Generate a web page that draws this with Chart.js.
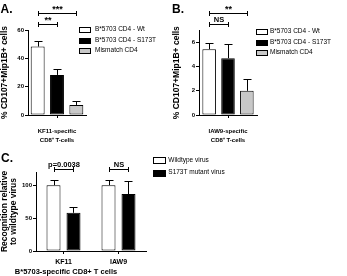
<!DOCTYPE html>
<html><head><meta charset="utf-8">
<script src="https://cdn.jsdelivr.net/npm/chart.js@4"></script>
<style>
html,body{margin:0;padding:0;background:#fff;}
#wrap{position:relative;width:347px;height:276px;overflow:hidden;background:#fff;}
canvas{position:absolute;}
</style></head><body>
<div id="wrap">
<canvas id="cA" width="170" height="150" style="left:0;top:0;width:170px;height:150px"></canvas>
<canvas id="cB" width="177" height="150" style="left:170px;top:0;width:177px;height:150px"></canvas>
<canvas id="cC" width="347" height="128" style="left:0;top:148px;width:347px;height:128px"></canvas>
</div>
<script>
// ---------- data ----------
const seriesAB = ['B*5703 CD4 - Wt', 'B*5703 CD4 - S173T', 'Mismatch CD4'];
const categoryA = [['KF11-specific', 'CD8⁺ T-cells']];
const meansA = [48.3, 28.3, 7.1];
const errorsA = [4.1, 4.2, 3.1];
const categoryB = [['IAW9-specific', 'CD8⁺ T-cells']];
const meansB = [5.45, 4.7, 2.0];
const errorsB = [0.48, 1.15, 0.97];
const epitopesC = ['KF11', 'IAW9'];
const virusC = ['Wildtype virus', 'S173T mutant virus'];
const wildtypeC = [100, 100];
const wildtypeErrC = [7.6, 7.8];
const mutantC = [58, 86.5];
const mutantErrC = [8.2, 19.5];
const sigA = [['***', 0, 2], ['**', 0, 1]];   // label, from series, to series
const sigB = [['**', 0, 2], ['NS', 0, 1]];
const sigC = [['p=0.0038', 0], ['NS', 1]];    // label, category index
const yTicksA = [0, 20, 40, 60];
const yTicksB = [0, 2, 4, 6];
const yTicksC = [0, 50, 100];

// ---------- styles ----------
const FONT = '"Liberation Sans", Arial, sans-serif';
const fills = ['#ffffff', '#000000', '#c8c8c8'];

const decor = {
  id: 'decor',
  afterDatasetsDraw(chart, args, o) {
    const ctx = chart.ctx;
    const ys = chart.scales.y;
    ctx.save();
    ctx.strokeStyle = '#000';
    ctx.fillStyle = '#000';
    ctx.lineWidth = 1;
    // error bars (upper only)
    chart.data.datasets.forEach((ds, di) => {
      const meta = chart.getDatasetMeta(di);
      meta.data.forEach((el, i) => {
        const top = Math.round(ys.getPixelForValue(ds.data[i] + ds.errors[i])) + 0.5;
        const x = Math.round(el.x) + 0.5;
        ctx.beginPath();
        ctx.moveTo(x, el.y); ctx.lineTo(x, top);
        ctx.moveTo(x - o.cap / 2, top); ctx.lineTo(x + o.cap / 2, top);
        ctx.stroke();
      });
    });
    // significance brackets
    (o.brackets || []).forEach(b => {
      const x1 = Math.round(chart.getDatasetMeta(b.p[0]).data[b.p[1]].x) + 0.5;
      const x2 = Math.round(chart.getDatasetMeta(b.q[0]).data[b.q[1]].x) + 0.5;
      const y = Math.round(b.y) + 0.5;
      ctx.beginPath();
      ctx.moveTo(x1, y); ctx.lineTo(x2, y);
      ctx.moveTo(x1, y - 2.5); ctx.lineTo(x1, y + 2.5);
      ctx.moveTo(x2, y - 2.5); ctx.lineTo(x2, y + 2.5);
      ctx.stroke();
      const star = /^\*+$/.test(b.text);
      ctx.font = 'bold ' + (star ? 9 : 7.5) + 'px ' + FONT;
      ctx.textAlign = 'center';
      ctx.textBaseline = 'alphabetic';
      ctx.fillText(b.text, (x1 + x2) / 2, y - (star ? 2 : 3));
    });
    // legend
    const L = o.legend;
    chart.data.datasets.forEach((ds, i) => {
      const cy = L.y + i * L.dy;
      const bx = Math.round(L.x) + 0.5, by = Math.round(cy - L.h / 2) + 0.5;
      ctx.fillStyle = ds.backgroundColor;
      ctx.fillRect(bx, by, L.w, L.h);
      ctx.strokeRect(bx, by, L.w, L.h);
      ctx.fillStyle = '#000';
      ctx.font = '6.5px ' + FONT;
      ctx.textAlign = 'left';
      ctx.textBaseline = 'middle';
      ctx.fillText(ds.label, L.tx, cy);
    });
    // panel letter
    ctx.font = 'bold 12px ' + FONT;
    ctx.textAlign = 'left';
    ctx.textBaseline = 'alphabetic';
    ctx.fillText(o.letter.text, o.letter.x, o.letter.y);
    // extra x title
    if (o.xTitle) {
      ctx.font = 'bold 7.5px ' + FONT;
      ctx.textAlign = 'center';
      ctx.textBaseline = 'middle';
      ctx.fillText(o.xTitle.text, o.xTitle.x, o.xTitle.y);
    }
    ctx.restore();
  }
};

function axisX(fontSize, lh, pad, h) {
  return {
    type: 'category', offset: true,
    grid: { display: true, drawOnChartArea: false, drawTicks: true, tickLength: 3, color: '#000', offset: false, lineWidth: 1 },
    border: { display: true, color: '#000', width: 1 },
    ticks: { color: '#000', font: { family: FONT, size: fontSize, weight: 'bold', lineHeight: lh }, padding: pad, maxRotation: 0, autoSkip: false },
    afterFit(s) { s.height = h; }
  };
}
function axisY(max, tickVals, title, tFont, tLh, tPad, w) {
  return {
    min: 0, max: max,
    ticks: { color: '#000', font: { family: FONT, size: 6, weight: 'bold' }, padding: 1, autoSkip: false },
    afterBuildTicks(s) { s.ticks = tickVals.map(v => ({ value: v })); },
    grid: { display: true, drawOnChartArea: false, drawTicks: true, tickLength: 3, color: '#000', lineWidth: 1 },
    border: { display: true, color: '#000', width: 1 },
    title: { display: true, text: title, color: '#000', font: { family: FONT, size: tFont, weight: 'bold', lineHeight: tLh }, padding: { top: tPad, bottom: 0 } },
    afterFit(s) { s.width = w; }
  };
}
const base = { responsive: false, animation: false, devicePixelRatio: 1 };

function groupDatasets(means, errs, catPct, barPct) {
  return seriesAB.map((lab, i) => ({
    label: lab, data: [means[i]], errors: [errs[i]],
    backgroundColor: fills[i], borderColor: '#000', borderWidth: 1, borderSkipped: false,
    categoryPercentage: catPct, barPercentage: barPct
  }));
}

new Chart(document.getElementById('cA'), {
  type: 'bar',
  data: { labels: categoryA, datasets: groupDatasets(meansA, errorsA, 1.0, 0.72) },
  options: Object.assign({}, base, {
    layout: { padding: { left: 0, top: 30, right: 84, bottom: 0 } },
    scales: { x: axisX(6, 1.5, 8.5, 35), y: axisY(60, yTicksA, '% CD107+Mip1B+ cells', 8.5, 1.2, 0, 28) },
    plugins: {
      legend: { display: false }, tooltip: { enabled: false },
      decor: {
        cap: 8,
        brackets: sigA.map((s, k) => ({ text: s[0], p: [s[1], 0], q: [s[2], 0], y: k === 0 ? 13.3 : 24.3 })),
        legend: { x: 79, y: 29.7, dy: 10.5, w: 11, h: 5, tx: 95 },
        letter: { text: 'A.', x: 0.5, y: 13 }
      }
    }
  }),
  plugins: [decor]
});

new Chart(document.getElementById('cB'), {
  type: 'bar',
  data: { labels: categoryB, datasets: groupDatasets(meansB, errorsB, 0.975, 0.72) },
  options: Object.assign({}, base, {
    layout: { padding: { left: 0, top: 30.4, right: 90, bottom: 0 } },
    scales: { x: axisX(6, 1.5, 8.5, 35), y: axisY(7, yTicksB, '% CD107+Mip1B+ cells', 8.5, 1.2, 2, 29) },
    plugins: {
      legend: { display: false }, tooltip: { enabled: false },
      decor: {
        cap: 8,
        brackets: sigB.map((s, k) => ({ text: s[0], p: [s[1], 0], q: [s[2], 0], y: k === 0 ? 13.3 : 24.3 })),
        legend: { x: 86, y: 31.7, dy: 10.5, w: 11, h: 5, tx: 100 },
        letter: { text: 'B.', x: 2, y: 13 }
      }
    }
  }),
  plugins: [decor]
});

new Chart(document.getElementById('cC'), {
  type: 'bar',
  data: {
    labels: epitopesC,
    datasets: [
      { label: virusC[0], data: wildtypeC, errors: wildtypeErrC, backgroundColor: fills[0], borderColor: '#000', borderWidth: 1, borderSkipped: false, categoryPercentage: 0.727, barPercentage: 0.7 },
      { label: virusC[1], data: mutantC, errors: mutantErrC, backgroundColor: fills[1], borderColor: '#000', borderWidth: 1, borderSkipped: false, categoryPercentage: 0.727, barPercentage: 0.7 }
    ]
  },
  options: Object.assign({}, base, {
    layout: { padding: { left: 0, top: 24, right: 201, bottom: 0 } },
    scales: { x: axisX(7, 1.2, 4, 25), y: axisY(120, yTicksC, ['Recognition relative', 'to wildtype virus'], 8.5, 1.0, 0.75, 36) },
    plugins: {
      legend: { display: false }, tooltip: { enabled: false },
      decor: {
        cap: 8,
        brackets: sigC.map(s => ({ text: s[0], p: [0, s[1]], q: [1, s[1]], y: 20.5 })),
        legend: { x: 153, y: 12.4, dy: 12.3, w: 12, h: 6, tx: 168.3 },
        letter: { text: 'C.', x: 1, y: 14 },
        xTitle: { text: 'B*5703-specific CD8+ T cells', x: 66, y: 123.7 }
      }
    }
  }),
  plugins: [decor]
});
</script>
</body></html>
